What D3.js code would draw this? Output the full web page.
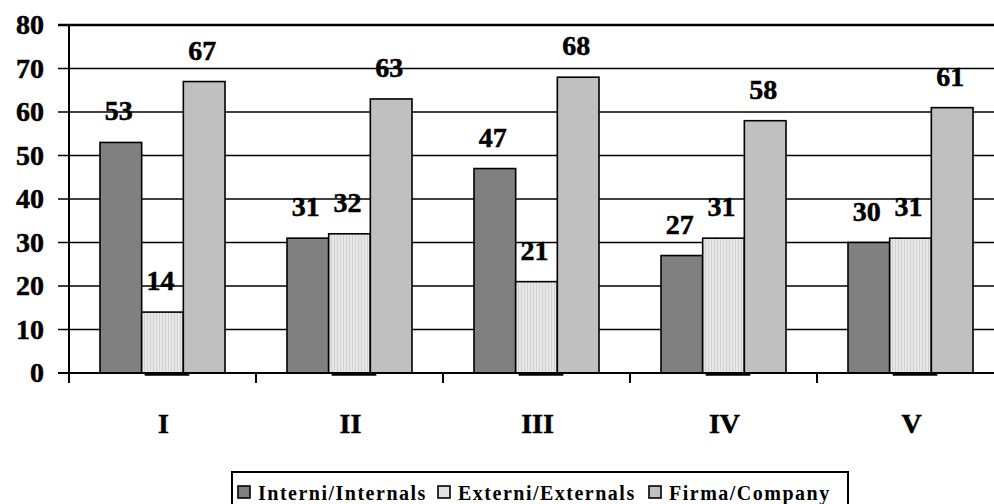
<!DOCTYPE html>
<html>
<head>
<meta charset="utf-8">
<script src="https://cdn.jsdelivr.net/npm/d3@7"></script>
<style>
  body { margin: 0; background: #fff; }
  text { font-family: "Times New Roman", Times, "Liberation Serif", serif; font-weight: bold; fill: #000; }
  .big { stroke: #000; stroke-width: 0.5; }
</style>
</head>
<body>
<div id="chart"></div>
<script>
// data
var categories = ["I", "II", "III", "IV", "V"];
var seriesNames = ["Interni/Internals", "Externi/Externals", "Firma/Company"];
var interni = [53, 31, 47, 27, 30];
var externi = [14, 32, 21, 31, 31];
var firma = [67, 63, 68, 58, 61];
var yTicks = [0, 10, 20, 30, 40, 50, 60, 70, 80];

var seriesValues = [interni, externi, firma];
var fills = ["#808080", "url(#stripes)", "#c0c0c0"];
var legendFills = ["#808080", "#e2e2e2", "#c0c0c0"];

var width = 994, height = 504;
var margin = { top: 25, left: 69, bottom: 131 };
var bandW = 187;

var svg = d3.select("#chart").append("svg")
    .attr("width", width)
    .attr("height", height);

// vertical stripe fill of the second series
var pat = svg.append("defs").append("pattern")
    .attr("id", "stripes")
    .attr("patternUnits", "userSpaceOnUse")
    .attr("width", 3)
    .attr("height", 10);
pat.append("rect").attr("width", 3).attr("height", 10).attr("fill", "#e8e8e8");
pat.append("rect").attr("width", 1).attr("height", 10).attr("fill", "#d0d0d0");

var x = d3.scaleBand()
    .domain(categories)
    .range([margin.left, margin.left + bandW * categories.length]);

var x1 = d3.scaleBand()
    .domain(d3.range(seriesNames.length))
    .range([31, 156]);

var y = d3.scaleLinear()
    .domain([0, 80])
    .range([height - margin.bottom, margin.top]);

// gridlines + left ticks
svg.append("g").selectAll("line")
    .data(yTicks.filter(function(d) { return d > 0; }))
    .enter().append("line")
    .attr("x1", 58)
    .attr("x2", width)
    .attr("y1", function(d) { return y(d); })
    .attr("y2", function(d) { return y(d); })
    .attr("stroke", "#000")
    .attr("stroke-width", function(d) { return d === 80 ? 2.5 : 1.6; });

svg.append("g").selectAll("text")
    .data(yTicks)
    .enter().append("text")
    .attr("class", "big")
    .attr("x", 44)
    .attr("y", function(d) { return y(d) + 9; })
    .attr("text-anchor", "end")
    .attr("font-size", 28)
    .text(function(d) { return d; });

// bars
var groups = svg.append("g").selectAll("g")
    .data(categories)
    .enter().append("g")
    .attr("transform", function(d) { return "translate(" + x(d) + ",0)"; });

groups.selectAll("rect")
    .data(function(d, i) {
        return seriesValues.map(function(s, k) { return { k: k, v: s[i] }; });
    })
    .enter().append("rect")
    .attr("x", function(d) { return x1(d.k); })
    .attr("y", function(d) { return y(d.v); })
    .attr("width", x1.bandwidth())
    .attr("height", function(d) { return y(0) - y(d.v); })
    .attr("fill", function(d) { return fills[d.k]; })
    .attr("stroke", "#000")
    .attr("stroke-width", 1.6);

// small dark line under second series
groups.append("line")
    .attr("x1", x1(1) + 3)
    .attr("x2", x1(1) + x1.bandwidth() + 6)
    .attr("y1", y(0) + 1.5)
    .attr("y2", y(0) + 1.5)
    .attr("stroke", "#000")
    .attr("stroke-width", 2.5);

groups.selectAll("text.val")
    .data(function(d, i) {
        return seriesValues.map(function(s, k) { return { k: k, v: s[i] }; });
    })
    .enter().append("text")
    .attr("class", "val big")
    .attr("x", function(d) { return x1(d.k) + x1.bandwidth() / 2 - 2; })
    .attr("y", function(d) { return y(d.v) - 22; })
    .attr("text-anchor", "middle")
    .attr("font-size", 28)
    .text(function(d) { return d.v; });

// axes lines
svg.append("line")
    .attr("x1", margin.left).attr("x2", margin.left)
    .attr("y1", y(80)).attr("y2", y(0) + 10)
    .attr("stroke", "#000").attr("stroke-width", 2);

svg.append("line")
    .attr("x1", 58).attr("x2", width)
    .attr("y1", y(0)).attr("y2", y(0))
    .attr("stroke", "#000").attr("stroke-width", 2);

svg.append("g").selectAll("line")
    .data(categories.slice(1))
    .enter().append("line")
    .attr("x1", function(d) { return x(d); })
    .attr("x2", function(d) { return x(d); })
    .attr("y1", y(0))
    .attr("y2", y(0) + 10)
    .attr("stroke", "#000").attr("stroke-width", 2);

svg.append("g").selectAll("text")
    .data(categories)
    .enter().append("text")
    .attr("class", "big")
    .attr("x", function(d) { return x(d) + x.bandwidth() / 2 + 1; })
    .attr("y", 433)
    .attr("text-anchor", "middle")
    .attr("font-size", 28)
    .text(function(d) { return d; });

// legend
var legend = svg.append("g");
legend.append("rect")
    .attr("x", 232).attr("y", 472)
    .attr("width", 616).attr("height", 40)
    .attr("fill", "#fff")
    .attr("stroke", "#000").attr("stroke-width", 2);

var legendX = [238, 438, 649];
seriesNames.forEach(function(name, k) {
    legend.append("rect")
        .attr("x", legendX[k]).attr("y", 486)
        .attr("width", 12).attr("height", 12)
        .attr("fill", legendFills[k])
        .attr("stroke", "#000").attr("stroke-width", 1.6);
    legend.append("text")
        .attr("x", legendX[k] + 20)
        .attr("y", 500)
        .attr("font-size", 20)
        .attr("letter-spacing", 1.5)
        .text(name);
});
</script>
</body>
</html>
